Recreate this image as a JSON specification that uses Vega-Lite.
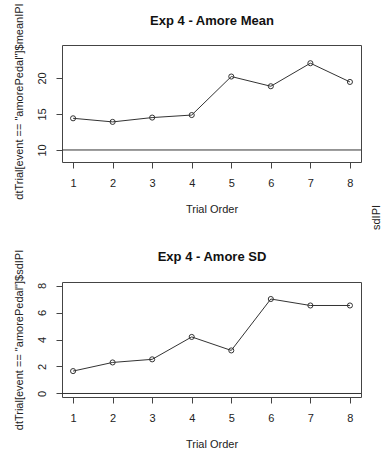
{
  "$schema": "https://vega.github.io/schema/vega-lite/v6.json",
  "padding": {"left": 12, "top": 2, "right": 0, "bottom": 0},
  "bounds": "flush",
  "spacing": 120,
  "background": "white",
  "datasets": {
    "mean": [
      {"trial": 1, "value": 14.4},
      {"trial": 2, "value": 13.9},
      {"trial": 3, "value": 14.5},
      {"trial": 4, "value": 14.85},
      {"trial": 5, "value": 20.2},
      {"trial": 6, "value": 18.85},
      {"trial": 7, "value": 22.05},
      {"trial": 8, "value": 19.45}
    ],
    "sd": [
      {"trial": 1, "value": 1.66},
      {"trial": 2, "value": 2.3},
      {"trial": 3, "value": 2.53},
      {"trial": 4, "value": 4.19},
      {"trial": 5, "value": 3.19},
      {"trial": 6, "value": 7.0},
      {"trial": 7, "value": 6.52},
      {"trial": 8, "value": 6.52}
    ],
    "meanRef": [{"value": 10}],
    "sdRef": [{"value": 0}]
  },
  "config": {
    "font": "Liberation Sans",
    "view": {"stroke": "#444", "strokeWidth": 1},
    "axis": {
      "grid": false,
      "domain": false,
      "tickColor": "#444",
      "tickSize": 6,
      "labelFontSize": 11,
      "labelColor": "#222",
      "labelOverlap": false,
      "titleFontSize": 11,
      "titleFontWeight": "normal",
      "titleColor": "#222"
    }
  },
  "vconcat": [
    {
      "width": 299,
      "height": 117,
      "layer": [
        {
          "data": {"name": "mean"},
          "mark": {"type": "line", "color": "#333", "strokeWidth": 1},
          "encoding": {
            "x": {
              "field": "trial", "type": "quantitative",
              "scale": {"domain": [0.72, 8.28], "nice": false, "zero": false},
              "axis": {
                "orient": "bottom",
                "values": [1, 2, 3, 4, 5, 6, 7, 8],
                "labelPadding": 18,
                "labelBaseline": "alphabetic",
                "labelOverlap": false,
                "title": "Trial Order",
                "titleY": 50.5,
                "titleBaseline": "alphabetic"
              }
            },
            "y": {
              "field": "value", "type": "quantitative",
              "scale": {"domain": [8.33, 24.58], "nice": false, "zero": false},
              "axis": {
                "orient": "left",
                "values": [10, 15, 20],
                "labelAngle": -90,
                "labelAlign": "center",
                "labelBaseline": "alphabetic",
                "labelPadding": 11,
                "labelOverlap": false,
                "title": "dtTrial[event == \"amorePedal\"]$meanIPI",
                "titleAngle": -90,
                "titleAlign": "center",
                "titleBaseline": "alphabetic",
                "titleX": -40,
                "titleY": 56
              }
            }
          }
        },
        {
          "data": {"name": "mean"},
          "mark": {"type": "point", "shape": "circle", "filled": false, "color": "#333", "size": 26, "strokeWidth": 1, "opacity": 1},
          "encoding": {
            "x": {
              "field": "trial", "type": "quantitative",
              "scale": {"domain": [0.72, 8.28], "nice": false, "zero": false},
              "axis": {
                "orient": "top",
                "labels": false,
                "ticks": false,
                "domain": false,
                "title": "Exp 4 - Amore Mean",
                "titleFontSize": 13,
                "titleFontWeight": "bold",
                "titleColor": "#111",
                "titleBaseline": "alphabetic",
                "titleAlign": "center",
                "titleY": -21
              }
            },
            "y": {"field": "value", "type": "quantitative", "axis": null}
          }
        },
        {
          "data": {"name": "meanRef"},
          "mark": {"type": "rule", "color": "#333", "strokeWidth": 1},
          "encoding": {
            "y": {
              "field": "value", "type": "quantitative",
              "scale": {"domain": [8.33, 24.58], "nice": false, "zero": false},
              "axis": {
                "orient": "right",
                "labels": false,
                "ticks": false,
                "domain": false,
                "title": "sdIPI",
                "titleAngle": -90,
                "titleAlign": "center",
                "titleBaseline": "alphabetic",
                "titleX": 18,
                "titleY": 172
              }
            }
          }
        }
      ],
      "resolve": {"axis": {"x": "independent", "y": "independent"}}
    },
    {
      "width": 299,
      "height": 115,
      "layer": [
        {
          "data": {"name": "sd"},
          "mark": {"type": "line", "color": "#333", "strokeWidth": 1},
          "encoding": {
            "x": {
              "field": "trial", "type": "quantitative",
              "scale": {"domain": [0.72, 8.28], "nice": false, "zero": false},
              "axis": {
                "orient": "bottom",
                "values": [1, 2, 3, 4, 5, 6, 7, 8],
                "labelPadding": 18.5,
                "labelBaseline": "alphabetic",
                "labelOverlap": false,
                "title": "Trial Order",
                "titleY": 50.8,
                "titleBaseline": "alphabetic"
              }
            },
            "y": {
              "field": "value", "type": "quantitative",
              "scale": {"domain": [-0.26, 8.26], "nice": false, "zero": false},
              "axis": {
                "orient": "left",
                "values": [0, 2, 4, 6, 8],
                "labelAngle": -90,
                "labelAlign": "center",
                "labelBaseline": "alphabetic",
                "labelPadding": 11,
                "labelOverlap": false,
                "title": "dtTrial[event == \"amorePedal\"]$sdIPI",
                "titleAngle": -90,
                "titleAlign": "center",
                "titleBaseline": "alphabetic",
                "titleX": -40
              }
            }
          }
        },
        {
          "data": {"name": "sd"},
          "mark": {"type": "point", "shape": "circle", "filled": false, "color": "#333", "size": 26, "strokeWidth": 1, "opacity": 1},
          "encoding": {
            "x": {
              "field": "trial", "type": "quantitative",
              "scale": {"domain": [0.72, 8.28], "nice": false, "zero": false},
              "axis": {
                "orient": "top",
                "labels": false,
                "ticks": false,
                "domain": false,
                "title": "Exp 4 - Amore SD",
                "titleFontSize": 13,
                "titleFontWeight": "bold",
                "titleColor": "#111",
                "titleBaseline": "alphabetic",
                "titleAlign": "center",
                "titleY": -22
              }
            },
            "y": {"field": "value", "type": "quantitative", "axis": null}
          }
        },
        {
          "data": {"name": "sdRef"},
          "mark": {"type": "rule", "color": "#333", "strokeWidth": 1},
          "encoding": {
            "y": {
              "field": "value", "type": "quantitative",
              "scale": {"domain": [-0.26, 8.26], "nice": false, "zero": false},
              "axis": null
            }
          }
        }
      ],
      "resolve": {"axis": {"x": "independent", "y": "independent"}}
    }
  ]
}
